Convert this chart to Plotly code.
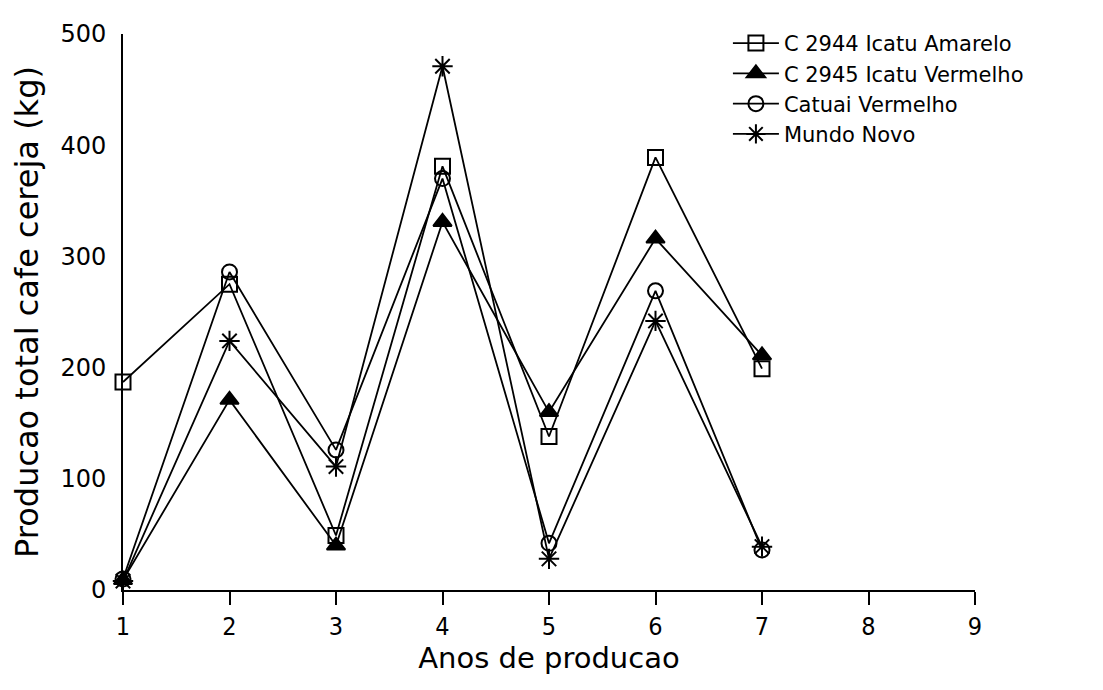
import plotly.graph_objects as go

years = [1, 2, 3, 4, 5, 6, 7]
c2944_amarelo = [187, 275, 49, 381, 138, 389, 199]
c2945_vermelho = [9, 171, 40, 331, 160, 316, 211]
catuai_vermelho = [10, 286, 126, 370, 42, 269, 36]
mundo_novo = [8, 224, 111, 471, 28, 242, 39]

series_names = ["C 2944 Icatu Amarelo", "C 2945 Icatu Vermelho", "Catuai Vermelho", "Mundo Novo"]
series_values = [c2944_amarelo, c2945_vermelho, catuai_vermelho, mundo_novo]
symbols = ["square-open", "triangle-up", "circle-open", "asterisk-open"]
sizes = [15, 16, 15, 17]

x_ticks = [1, 2, 3, 4, 5, 6, 7, 8, 9]
y_ticks = [0, 100, 200, 300, 400, 500]

fig = go.Figure()
for name, vals, sym, sz in zip(series_names, series_values, symbols, sizes):
    fig.add_trace(go.Scatter(
        x=years, y=vals, name=name, mode="lines+markers",
        line=dict(color="black", width=1.8),
        marker=dict(symbol=sym, size=sz, color="black",
                    line=dict(color="black", width=2)),
        cliponaxis=False,
    ))

W, H = 1095, 682
fig.update_layout(
    width=W, height=H,
    paper_bgcolor="white", plot_bgcolor="white",
    margin=dict(l=115, r=128, t=20, b=100),
    showlegend=True,
    legend=dict(
        x=0.71, y=1.02, xanchor="left", yanchor="top",
        font=dict(family="DejaVu Sans", size=21, color="black"),
        bgcolor="rgba(0,0,0,0)", tracegroupgap=0, itemwidth=46,
    ),
    font=dict(family="DejaVu Sans", color="black"),
)

fig.update_xaxes(
    range=[1, 9], tickvals=x_ticks, ticktext=[str(t) for t in x_ticks],
    showgrid=False, zeroline=False,
    showline=True, linecolor="black", linewidth=2,
    ticks="outside", ticklen=13, tickwidth=1.5, tickcolor="black",
    tickfont=dict(family="DejaVu Sans Condensed, DejaVu Sans", size=25, color="black"),
    title=dict(text="Anos de producao", standoff=8,
               font=dict(family="DejaVu Sans", size=29, color="black")),
)
fig.update_yaxes(
    range=[0, 500], tickvals=y_ticks, ticktext=[str(t) for t in y_ticks],
    showgrid=False, zeroline=False,
    showline=True, linecolor="black", linewidth=2,
    ticks="", ticklabelstandoff=10,
    tickfont=dict(family="DejaVu Sans", size=24, color="black"),
    title=dict(text="Producao total cafe cereja (kg)", standoff=14,
               font=dict(family="DejaVu Sans", size=32, color="black")),
)

fig.write_html("out.html")
